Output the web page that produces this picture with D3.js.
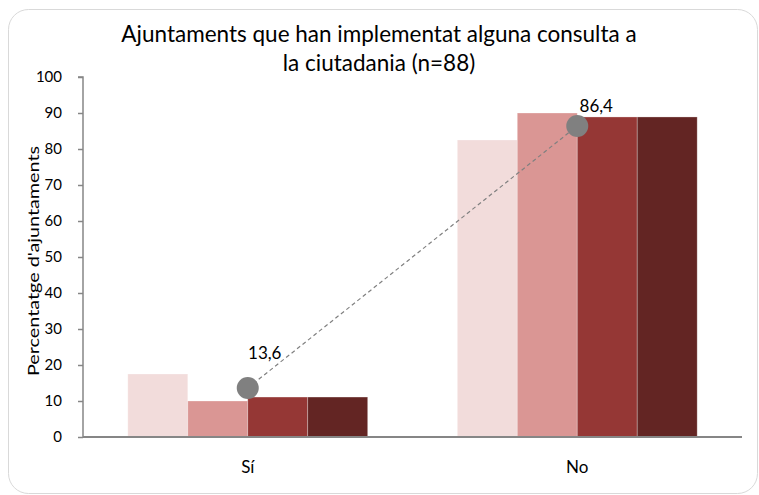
<!DOCTYPE html>
<html><head><meta charset="utf-8">
<script src="https://cdn.jsdelivr.net/npm/d3@7"></script>
<style>body{margin:0;background:#fff}svg{display:block}text{font-family:Lato,"Open Sans",sans-serif;fill:#000}</style>
</head><body>
<svg id="c" width="759" height="495"></svg>
<script>
const categories = ["Sí", "No"];
const series1 = [17.5, 82.5];
const series2 = [10.0, 90.0];
const series3 = [11.1, 88.9];
const series4 = [11.1, 88.9];
const lineValues = [13.6, 86.4];
const lineLabels = ["13,6", "86,4"];
const yTicks = [0,10,20,30,40,50,60,70,80,90,100];
const titleLines = ["Ajuntaments que han implementat alguna consulta a", "la ciutadania (n=88)"];
const yLabel = "Percentatge d'ajuntaments";

const colors = ["#F2DCDB", "#DA9694", "#953735", "#632523"];
const seriesAll = [series1, series2, series3, series4];

const svg = d3.select("#c");
svg.append("rect").attr("x", 8.5).attr("y", 9.5).attr("width", 749).attr("height", 484)
  .attr("rx", 20).attr("fill", "#fff").attr("stroke", "#d9d9d9").attr("stroke-width", 1);

const pL = 83, pR = 742, pT = 77, pB = 437;
const x = d3.scaleBand().domain(categories).range([pL, pR]).paddingInner(0).paddingOuter(0);
const y = d3.scaleLinear().domain([0, 100]).range([pB, pT]);
const groupW = x.bandwidth() * 0.728;
const xs = d3.scaleBand().domain(d3.range(4)).range([0, groupW]);

// bars
seriesAll.forEach((s, i) => {
  svg.append("g").selectAll("rect").data(categories).join("rect")
    .attr("x", c => x(c) + (x.bandwidth() - groupW) / 2 + xs(i))
    .attr("y", (c, j) => y(s[j]))
    .attr("width", xs.bandwidth())
    .attr("height", (c, j) => y(0) - y(s[j]))
    .attr("fill", colors[i])
    .attr("stroke", "rgba(255,255,255,0.35)").attr("stroke-width", 0.8);
});

// axes
const yAxis = d3.axisLeft(y).tickValues(yTicks).tickSize(5).tickPadding(16);
const gy = svg.append("g").attr("transform", `translate(${pL},0)`).call(yAxis);
gy.select(".domain").attr("stroke", "#868686").attr("stroke-width", 1.5).attr("d", `M-5,${pT}H0V${pB}`);
gy.selectAll(".tick line").attr("stroke", "#868686").attr("stroke-width", 1.5);
gy.selectAll(".tick text").attr("font-size", 15).attr("font-family", "Lato,sans-serif").attr("fill", "#000");

const gx = svg.append("g").attr("transform", `translate(0,${pB})`)
  .call(d3.axisBottom(x).tickSize(0).tickPadding(24));
gx.select(".domain").attr("stroke", "#868686").attr("stroke-width", 2).attr("d", `M${pL},0H${pR}`);
gx.selectAll(".tick text").attr("font-size", 17).attr("font-family", "Lato,sans-serif").attr("fill", "#000");

// line series
const cx = c => x(c) + x.bandwidth() / 2;
const line = d3.line().x((d, i) => cx(categories[i])).y(d => y(d));
svg.append("path").datum(lineValues).attr("d", line).attr("fill", "none")
  .attr("stroke", "#808080").attr("stroke-width", 1.2).attr("stroke-dasharray", "4,3");
svg.append("g").selectAll("circle").data(lineValues).join("circle")
  .attr("cx", (d, i) => cx(categories[i])).attr("cy", d => y(d)).attr("r", 11).attr("fill", "#808080");
const labelDx = [17, 19], labelDy = [-29, -14];
svg.append("g").selectAll("text").data(lineValues).join("text")
  .attr("x", (d, i) => cx(categories[i]) + labelDx[i]).attr("y", (d, i) => y(d) + labelDy[i])
  .attr("text-anchor", "middle").attr("font-size", 17).text((d, i) => lineLabels[i]);

// title
svg.append("g").selectAll("text").data(titleLines).join("text")
  .attr("x", 379).attr("y", (d, i) => 42 + i * 29).attr("text-anchor", "middle")
  .attr("font-size", 22.5).text(d => d);

// y label
svg.append("text").attr("transform", `translate(39,261) rotate(-90)`)
  .attr("text-anchor", "middle").attr("font-size", 15.5)
  .attr("textLength", 230).attr("lengthAdjust", "spacingAndGlyphs").text(yLabel);
</script>
</body></html>
